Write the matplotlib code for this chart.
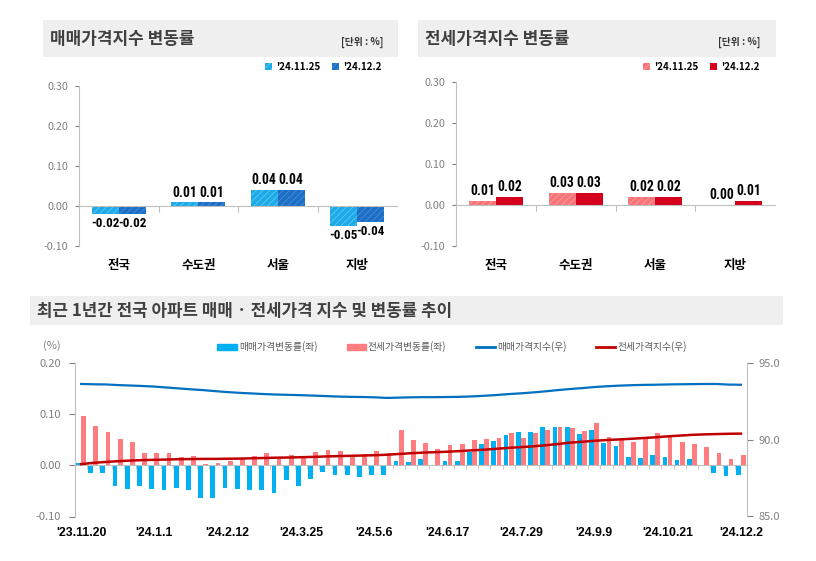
import matplotlib
matplotlib.use("Agg")
import matplotlib.pyplot as plt
from matplotlib import font_manager
from matplotlib.patches import Rectangle
from matplotlib.lines import Line2D
import numpy as np

plt.rcParams['font.family'] = ['Noto Sans CJK KR', 'DejaVu Sans']
plt.rcParams['hatch.linewidth'] = 0.6

# ---- data ----
regions = ['전국', '수도권', '서울', '지방']
sale_prev = [-0.02, 0.009, 0.04, -0.05]
sale_curr = [-0.02, 0.009, 0.04, -0.04]
jeonse_prev = [0.01, 0.03, 0.02, 0.00]
jeonse_curr = [0.02, 0.03, 0.02, 0.01]
sale_labels_prev = ['-0.02', '0.01', '0.04', '-0.05']
sale_labels_curr = ['-0.02', '0.01', '0.04', '-0.04']
jeonse_labels_prev = ['0.01', '0.03', '0.02', '0.00']
jeonse_labels_curr = ['0.02', '0.03', '0.02', '0.01']

week_labels = ["'23.11.20", "'24.1.1", "'24.2.12", "'24.3.25", "'24.5.6",
               "'24.6.17", "'24.7.29", "'24.9.9", "'24.10.21", "'24.12.2"]

sale_chg = [0.005, -0.014, -0.015, -0.040, -0.047, -0.040, -0.047, -0.048, -0.044, -0.049,
            -0.063, -0.063, -0.044, -0.046, -0.049, -0.049, -0.054, -0.029, -0.041, -0.026,
            -0.013, -0.018, -0.019, -0.022, -0.019, -0.018, 0.008, 0.006, 0.013, -0.001,
            0.008, 0.008, 0.026, 0.041, 0.047, 0.060, 0.066, 0.066, 0.076, 0.076,
            0.076, 0.061, 0.069, 0.044, 0.039, 0.016, 0.015, 0.020, 0.016, 0.011,
            0.012, 0.001, -0.014, -0.020, -0.018]
jeonse_chg = [0.096, 0.078, 0.065, 0.052, 0.046, 0.024, 0.025, 0.025, 0.017, 0.018,
              0.002, 0.004, 0.008, 0.012, 0.018, 0.024, 0.013, 0.020, 0.016, 0.027,
              0.030, 0.029, 0.021, 0.023, 0.029, 0.024, 0.070, 0.049, 0.043, 0.033,
              0.040, 0.042, 0.050, 0.052, 0.054, 0.063, 0.054, 0.063, 0.069, 0.075,
              0.073, 0.067, 0.084, 0.056, 0.049, 0.045, 0.052, 0.063, 0.056, 0.046,
              0.041, 0.036, 0.025, 0.012, 0.020]
sale_idx = [93.65, 93.63, 93.62, 93.58, 93.55, 93.52, 93.48, 93.42, 93.36, 93.30,
            93.25, 93.18, 93.12, 93.07, 93.03, 92.99, 92.96, 92.94, 92.92, 92.89,
            92.86, 92.83, 92.81, 92.80, 92.78, 92.74, 92.76, 92.78, 92.79, 92.79,
            92.80, 92.81, 92.84, 92.88, 92.93, 92.99, 93.04, 93.10, 93.17, 93.25,
            93.32, 93.38, 93.45, 93.50, 93.54, 93.57, 93.59, 93.60, 93.62, 93.63,
            93.64, 93.65, 93.65, 93.61, 93.60]
jeonse_idx = [88.42, 88.50, 88.56, 88.61, 88.65, 88.68, 88.70, 88.72, 88.74, 88.75,
              88.76, 88.76, 88.77, 88.78, 88.80, 88.82, 88.84, 88.85, 88.87, 88.89,
              88.92, 88.94, 88.96, 88.98, 89.00, 89.03, 89.08, 89.13, 89.17, 89.20,
              89.23, 89.27, 89.32, 89.36, 89.42, 89.48, 89.53, 89.58, 89.65, 89.73,
              89.82, 89.88, 89.94, 89.99, 90.03, 90.07, 90.12, 90.17, 90.23, 90.28,
              90.33, 90.36, 90.38, 90.40, 90.41]

W, H = 816, 561
fig = plt.figure(figsize=(W / 100, H / 100), dpi=100)


def box(l, t, r, b):
    return [l / W, 1 - b / H, (r - l) / W, (b - t) / H]


def px(x, y):
    return x / W, 1 - y / H


def pick_font(names):
    for name in names:
        try:
            font_manager.findfont(font_manager.FontProperties(family=name), fallback_to_default=False)
            return name
        except ValueError:
            continue
    return 'DejaVu Sans'


GRAY = '#808080'
TITLE_C = '#404040'
NARROW = pick_font(['Liberation Sans Narrow', 'Roboto Condensed', 'Liberation Sans', 'Arial'])
LATIN = pick_font(['Liberation Sans', 'Arial', 'DejaVu Sans'])

# header boxes
for l, t, r, b in [(43, 20, 398, 57), (418, 20, 776, 57), (30, 296, 783, 325)]:
    fig.patches.append(Rectangle(px(l, b), (r - l) / W, (b - t) / H, transform=fig.transFigure,
                                 facecolor='#EFEFEF', edgecolor='none', zorder=0))

fig.text(*px(50, 39), '매매가격지수 변동률', fontsize=12.2, fontweight='bold', color=TITLE_C, va='center')
fig.text(*px(383, 42), '[단위 : %]', fontsize=7, fontweight='bold', color='#333333', va='center', ha='right')
fig.text(*px(425, 39), '전세가격지수 변동률', fontsize=12.2, fontweight='bold', color=TITLE_C, va='center')
fig.text(*px(760, 42), '[단위 : %]', fontsize=7, fontweight='bold', color='#333333', va='center', ha='right')
fig.text(*px(37, 311), '최근 1년간 전국 아파트 매매 · 전세가격 지수 및 변동률 추이', fontsize=12.1,
         fontweight='bold', color=TITLE_C, va='center')


def bar_panel(rect, prev, curr, lab_prev, lab_curr, c_prev, c_curr, h_prev, h_curr, legend_x):
    ax = fig.add_axes(rect)
    x = np.arange(len(regions))
    w = 0.34
    b1 = ax.bar(x - w / 2, prev, w, color=c_prev, edgecolor=h_prev, hatch='/////', linewidth=0)
    b2 = ax.bar(x + w / 2, curr, w, color=c_curr, edgecolor=h_curr, hatch='/////', linewidth=0)
    for xs, vals, labs in [(x - w / 2, prev, lab_prev), (x + w / 2, curr, lab_curr)]:
        for xi, v, s in zip(xs, vals, labs):
            if v < 0:
                ax.annotate(s, (xi, v), xytext=(0, -2), textcoords='offset points', ha='center', va='top',
                            fontsize=9.4, fontweight='bold', family=NARROW, stretch='condensed')
            else:
                ax.annotate(s, (xi, v), xytext=(0, 2), textcoords='offset points', ha='center', va='bottom',
                            fontsize=9.8, fontweight='bold', family=NARROW, stretch='condensed')
    for xi, name in zip(x, regions):
        ax.annotate(name, (xi, 0), xycoords=('data', 'axes fraction'), xytext=(0, -14),
                    textcoords='offset points', ha='center', va='center', fontsize=9, fontweight='bold')
    ax.set_xlim(-0.5, 3.5)
    ax.set_ylim(-0.10, 0.30)
    ax.set_yticks([-0.10, 0.0, 0.10, 0.20, 0.30])
    ax.set_yticklabels(['-0.10', '0.00', '0.10', '0.20', '0.30'])
    ax.tick_params(axis='y', colors=GRAY, labelsize=7.8, length=3, width=0.8, pad=5)
    ax.spines['top'].set_visible(False)
    ax.spines['right'].set_visible(False)
    ax.spines['left'].set_color('#BFBFBF')
    ax.spines['bottom'].set_position(('data', 0))
    ax.spines['bottom'].set_color('#BFBFBF')
    ax.set_xticks([0.5, 1.5, 2.5])
    ax.set_xticklabels([])
    ax.tick_params(axis='x', colors='#BFBFBF', length=4, width=0.8)
    ax.patch.set_alpha(0)
    fig.legend([b1, b2], ["'24.11.25", "'24.12.2"], loc='center right', bbox_to_anchor=(px(legend_x, 67)),
               ncol=2, frameon=False, handlelength=0.7, handleheight=0.7, handletextpad=0.4,
               columnspacing=1.2, prop={'size': 7, 'weight': 'bold'})
    return ax


bar_panel(box(79, 86, 397, 246), sale_prev, sale_curr, sale_labels_prev, sale_labels_curr,
          '#1CAAE8', '#1B6FC6', '#63C8F0', '#4C8FD6', 390)
bar_panel(box(456, 82, 775, 246), jeonse_prev, jeonse_curr, jeonse_labels_prev, jeonse_labels_curr,
          '#F87477', '#D5001C', '#FBA0A2', '#D5001C', 768)

# ---- bottom chart ----
ax = fig.add_axes(box(75, 363.3, 747, 516.5))
n = len(sale_chg)
x = np.arange(n)
bw = 0.39
ax.bar(x - 0.22, sale_chg, bw, color='#00B0F0', linewidth=0, label='매매가격변동률(좌)')
ax.bar(x + 0.2, jeonse_chg, bw, color='#FF7C80', linewidth=0, label='전세가격변동률(좌)')
ax.set_xlim(-0.5, n - 0.5)
ax.set_ylim(-0.10, 0.20)
ax.set_yticks([-0.10, 0.0, 0.10, 0.20])
ax.set_yticklabels(['-0.10', '0.00', '0.10', '0.20'])
ax.tick_params(axis='y', colors=GRAY, labelsize=8, length=4, width=0.8, pad=6)
ax.spines['top'].set_visible(False)
ax.spines['right'].set_visible(False)
ax.spines['left'].set_color('#BFBFBF')
ax.spines['bottom'].set_position(('data', 0))
ax.spines['bottom'].set_color('#BFBFBF')
ax.set_xticks(np.arange(n + 1) - 0.5)
ax.set_xticklabels([])
ax.tick_params(axis='x', colors='#BFBFBF', length=3, width=0.6)
for i, s in enumerate(week_labels):
    ax.annotate(s, (i * 6, 0), xycoords=('data', 'axes fraction'), xytext=(0, -12),
                textcoords='offset points', ha='center', va='center', fontsize=8.8, fontweight='bold',
                family=LATIN)

ax2 = ax.twinx()
ax2.plot(x, sale_idx, color='#0070C0', lw=1.6)
ax2.plot(x, jeonse_idx, color='#C00000', lw=1.8)
ax2.set_ylim(85, 95)
ax2.set_yticks([85, 90, 95])
ax2.set_yticklabels(['85.0', '90.0', '95.0'])
ax2.tick_params(axis='y', colors=GRAY, labelsize=8, length=4, width=0.8, pad=4)
for side in ['top', 'left', 'bottom']:
    ax2.spines[side].set_visible(False)
ax2.spines['right'].set_color('#BFBFBF')

fig.text(*px(52, 346), '(%)', fontsize=8, color=GRAY, va='center', ha='center')

handles = [Rectangle((0, 0), 1, 1, color='#00B0F0'), Rectangle((0, 0), 1, 1, color='#FF7C80'),
           Line2D([], [], color='#0070C0', lw=2), Line2D([], [], color='#C00000', lw=2)]
labels = ['매매가격변동률(좌)', '전세가격변동률(좌)', '매매가격지수(우)', '전세가격지수(우)']
fig.legend(handles, labels, loc='center', bbox_to_anchor=px(452, 347), ncol=4, frameon=False,
           handlelength=2.0, handleheight=0.5, handletextpad=0.2, columnspacing=3.0,
           prop={'size': 7, 'family': ['Noto Sans CJK KR']}, labelcolor='#595959')

fig.savefig('out.png', dpi=100)
